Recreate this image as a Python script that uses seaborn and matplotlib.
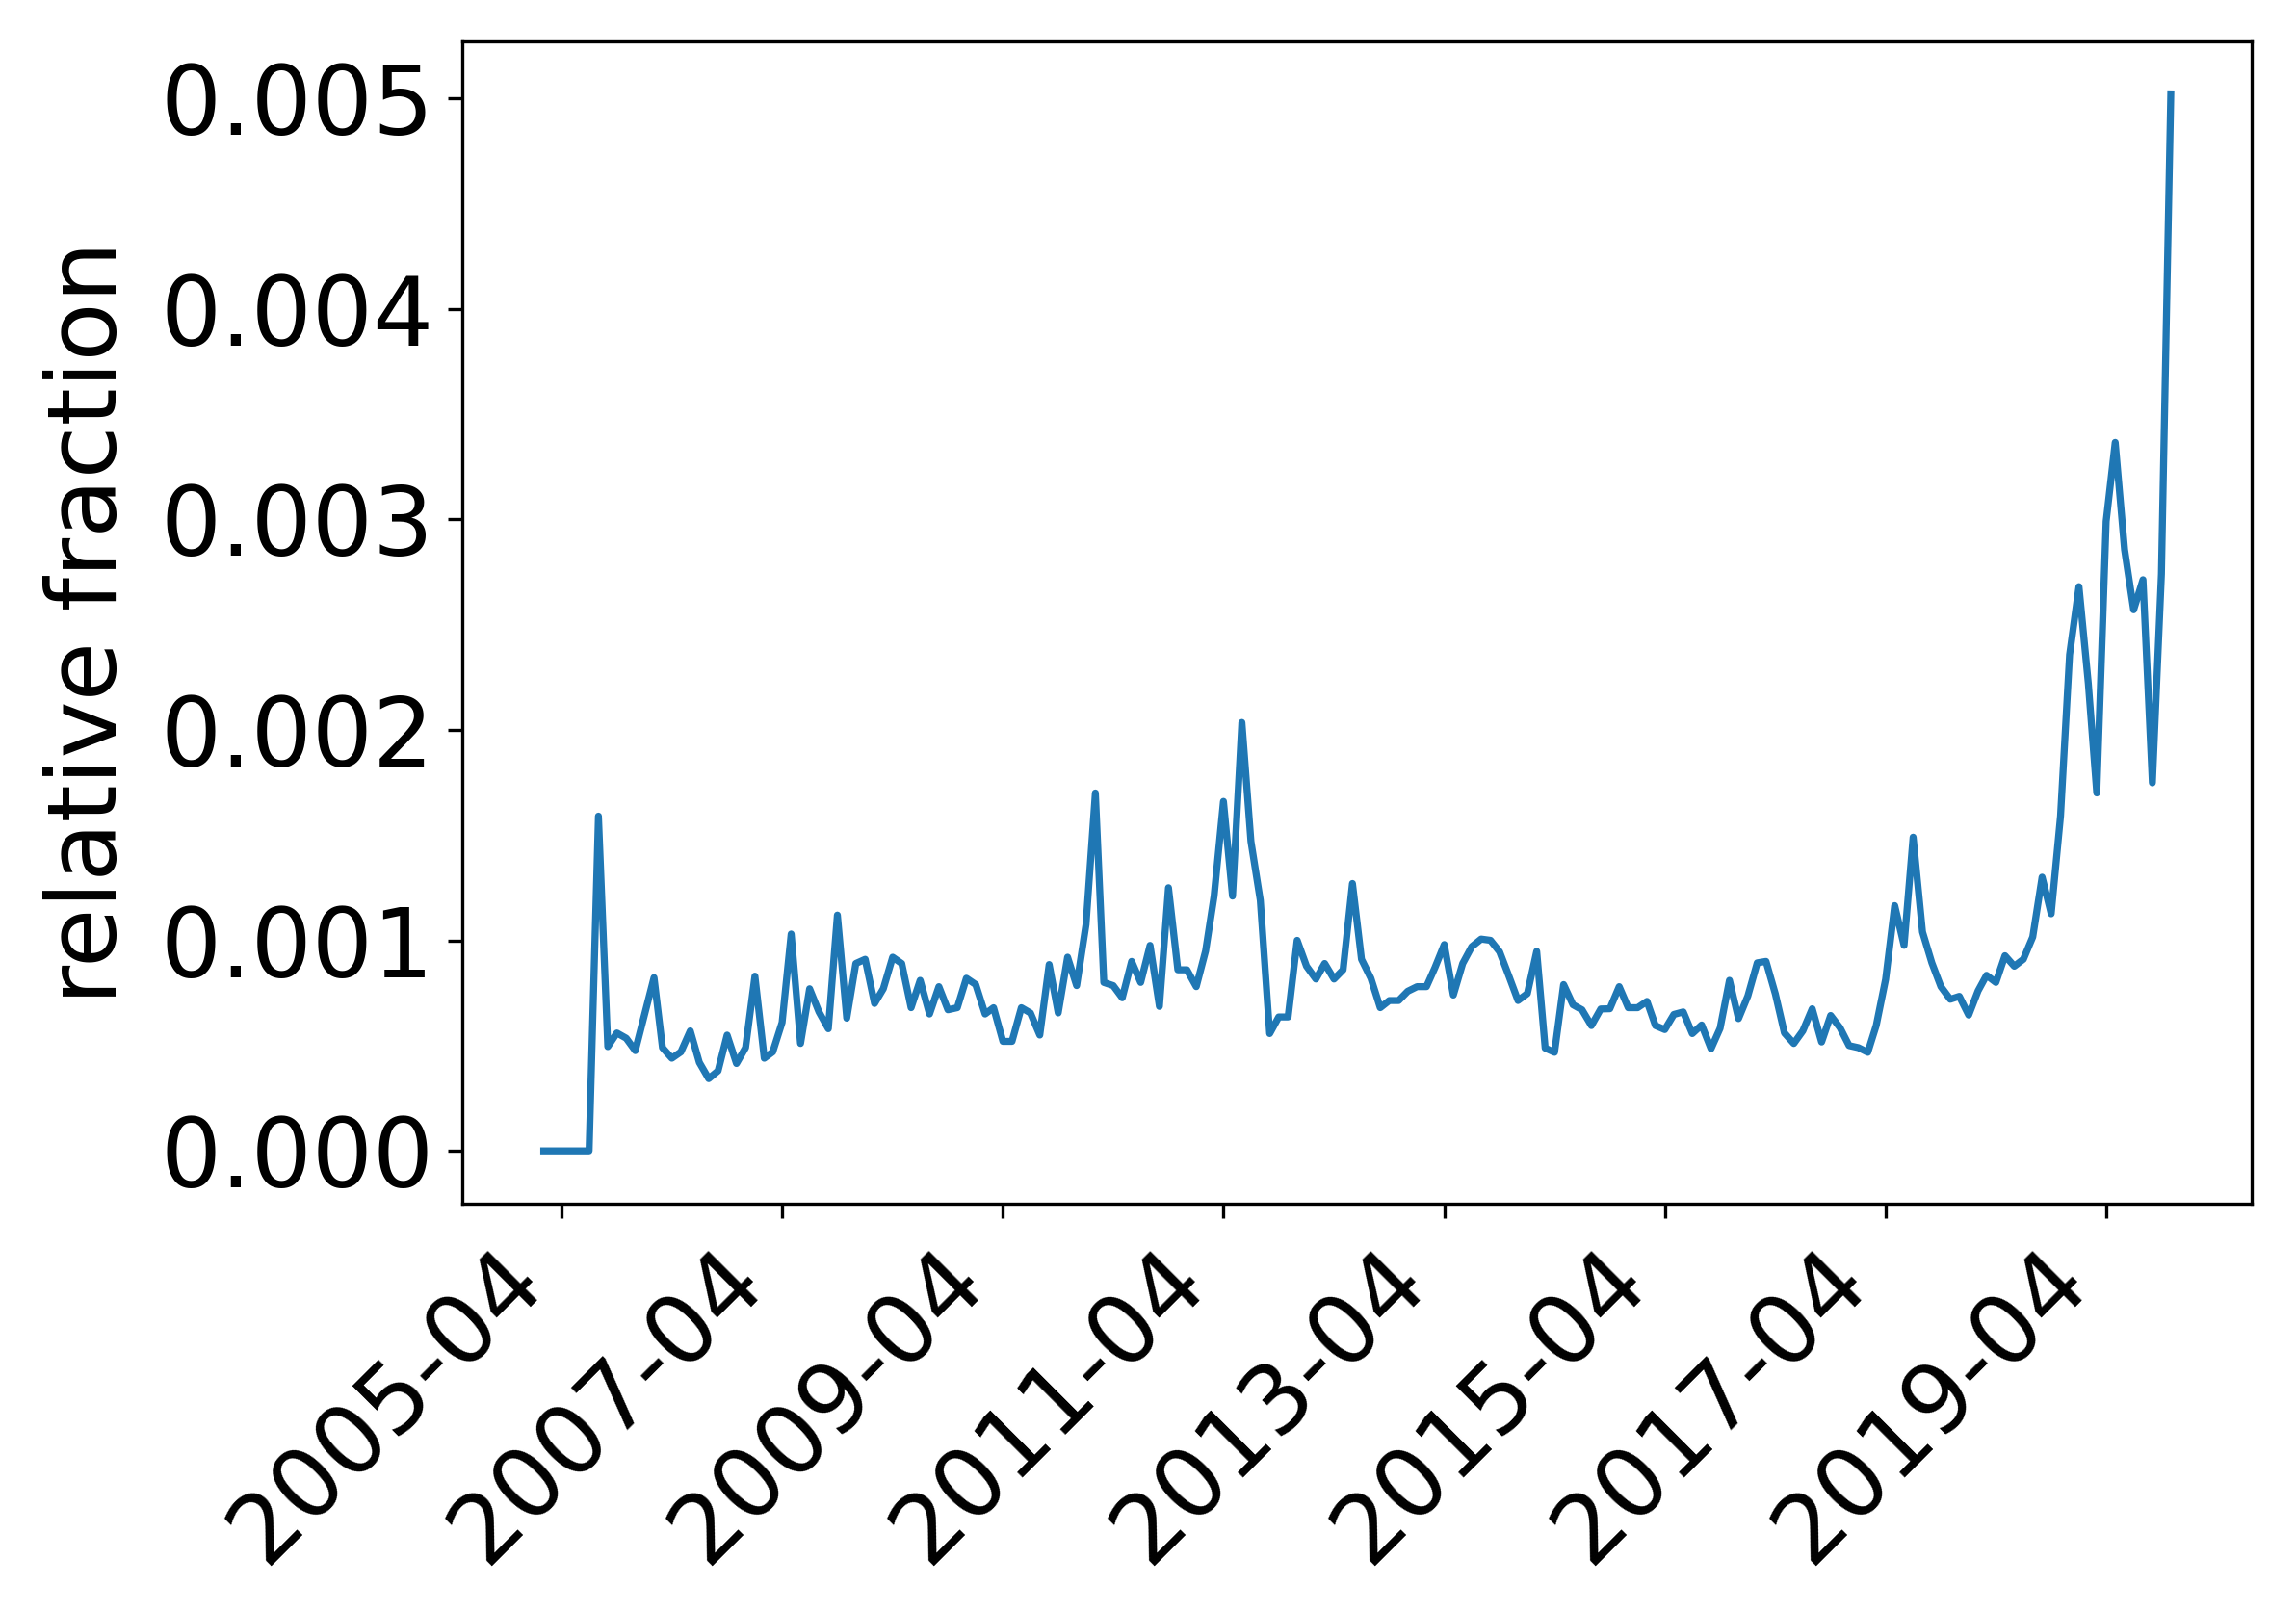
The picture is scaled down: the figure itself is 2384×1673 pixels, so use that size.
import matplotlib
matplotlib.use("Agg")
import matplotlib.pyplot as plt
import seaborn as sns
import pandas as pd

# monthly series, first month 2005-02
start_month = "2005-02"
fraction_e3 = [
    0, 0, 0, 0, 0, 0, 1.59, 0.495, 0.56, 0.535,
    0.476, 0.65, 0.823, 0.49, 0.44, 0.47, 0.57, 0.42, 0.343, 0.38,
    0.55, 0.415, 0.49, 0.83, 0.44, 0.47, 0.61, 1.03, 0.51, 0.77,
    0.66, 0.58, 1.12, 0.63, 0.89, 0.91, 0.70, 0.77, 0.92, 0.89,
    0.68, 0.81, 0.65, 0.78, 0.67, 0.68, 0.82, 0.79, 0.65, 0.68,
    0.52, 0.52, 0.68, 0.655, 0.55, 0.885, 0.655, 0.92, 0.785, 1.075,
    1.70, 0.80, 0.785, 0.727, 0.90, 0.80, 0.976, 0.686, 1.25, 0.86,
    0.86, 0.78, 0.95, 1.21, 1.66, 1.21, 2.035, 1.47, 1.19, 0.557,
    0.636, 0.636, 1.0, 0.877, 0.816, 0.89, 0.816, 0.86, 1.27, 0.91,
    0.82, 0.68, 0.714, 0.714, 0.758, 0.78, 0.78, 0.87, 0.98, 0.74,
    0.89, 0.97, 1.006, 1.0, 0.946, 0.83, 0.714, 0.747, 0.948, 0.488,
    0.468, 0.79, 0.694, 0.67, 0.595, 0.674, 0.675, 0.78, 0.68, 0.68,
    0.71, 0.595, 0.576, 0.648, 0.66, 0.557, 0.598, 0.485, 0.582, 0.81,
    0.628, 0.736, 0.893, 0.90, 0.745, 0.56, 0.51, 0.57, 0.675, 0.517,
    0.643, 0.585, 0.50, 0.49, 0.468, 0.596, 0.815, 1.165, 0.976, 1.49,
    1.04, 0.893, 0.78, 0.72, 0.734, 0.645, 0.76, 0.834, 0.80, 0.927,
    0.877, 0.91, 1.016, 1.30, 1.126, 1.59, 2.357, 2.68, 2.22, 1.70,
    2.99, 3.365, 2.856, 2.57, 2.713, 1.748, 2.74, 5.02,
]
tick_labels = ["2005-04", "2007-04", "2009-04", "2011-04",
               "2013-04", "2015-04", "2017-04", "2019-04"]

months = pd.date_range(start_month, periods=len(fraction_e3), freq="MS")
df = pd.DataFrame({"month": months,
                   "fraction": [v / 1000 for v in fraction_e3]})

fig = plt.figure(figsize=(2384 / 300, 1673 / 300), dpi=300)
ax = fig.add_subplot(111)
fig.subplots_adjust(left=0.2014, right=0.9809, top=0.9745, bottom=0.2528)

sns.lineplot(data=df, x="month", y="fraction", ax=ax, color="#1f77b4", linewidth=1.75)

ax.set_xticks(pd.to_datetime(tick_labels))
ax.set_xticklabels(tick_labels, rotation=45, ha="right", fontsize=23.8)
ax.set_yticks([0, 0.001, 0.002, 0.003, 0.004, 0.005])
ax.set_yticklabels(["0.000", "0.001", "0.002", "0.003", "0.004", "0.005"], fontsize=23.8)
ax.set_xlabel("")
ax.set_ylabel("relative fraction", fontsize=24, labelpad=6)

fig.savefig("out.png", dpi=300)
